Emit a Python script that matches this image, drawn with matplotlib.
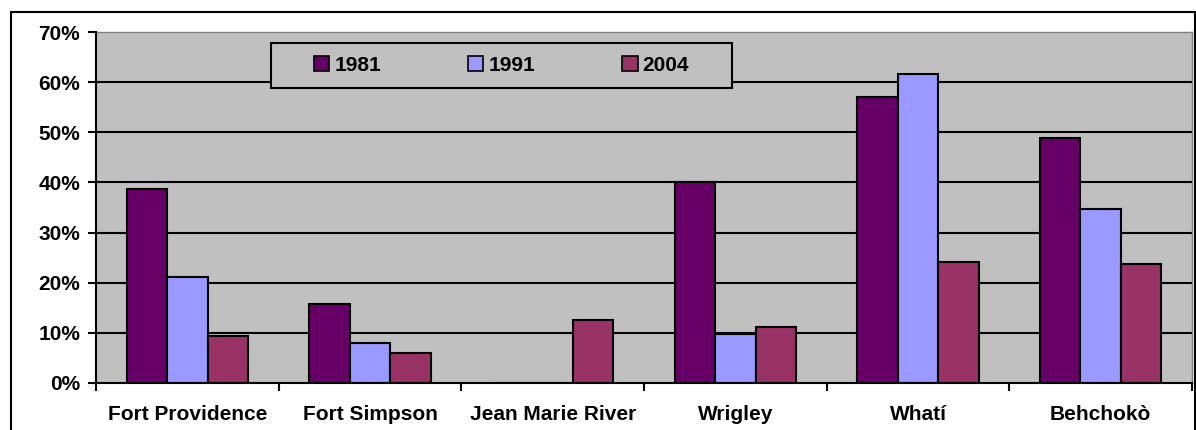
import matplotlib
matplotlib.use("Agg")
import matplotlib.pyplot as plt
from matplotlib.patches import Rectangle, Patch
import numpy as np

categories = ["Fort Providence", "Fort Simpson", "Jean Marie River", "Wrigley", "Whatí", "Behchokò"]
series_names = ["1981", "1991", "2004"]
values_1981 = [38.7, 15.7, 0.0, 40.0, 57.1, 48.9]
values_1991 = [21.1, 8.0, 0.0, 9.8, 61.6, 34.8]
values_2004 = [9.4, 5.9, 12.5, 11.1, 24.1, 23.8]
y_ticks = [0, 10, 20, 30, 40, 50, 60, 70]
y_tick_labels = ["0%", "10%", "20%", "30%", "40%", "50%", "60%", "70%"]
colors = ["#660066", "#9999FF", "#993366"]

plt.rcParams['font.family'] = ['Liberation Sans', 'DejaVu Sans']
plt.rcParams['font.weight'] = 'bold'

W, H = 1196, 430
fig = plt.figure(figsize=(W / 100, H / 100), dpi=100)
fig.patch.set_facecolor("white")

# outer chart frame
fig.patches.append(Rectangle((11 / W, -0.05), (1195 - 11) / W, (H - 12) / H + 0.05,
                             transform=fig.transFigure, fill=False,
                             edgecolor="black", linewidth=1.5, zorder=0))

ax = fig.add_axes([96 / W, (H - 383) / H, (1192 - 96) / W, (383 - 32) / H])
ax.set_facecolor("#C0C0C0")

x = np.arange(len(categories))
bw = 0.222
for i, (vals, name) in enumerate(zip([values_1981, values_1991, values_2004], series_names)):
    ax.bar(x + (i - 1) * bw, vals, width=bw, color=colors[i], edgecolor="black",
           linewidth=1.5, zorder=3, label=name)

ax.set_xlim(-0.5, len(categories) - 0.5)
ax.set_ylim(0, 70)
ax.set_yticks(y_ticks)
ax.set_yticklabels(y_tick_labels, fontsize=15, fontweight="bold")
ax.set_xticks(x)
ax.set_xticklabels(categories, fontsize=15, fontweight="bold")
ax.set_xticks(np.arange(-0.5, len(categories), 1.0), minor=True)
ax.tick_params(axis="x", which="major", length=0, pad=16)
ax.tick_params(axis="x", which="minor", length=5.5, width=1.5, direction="out")
ax.tick_params(axis="y", which="major", length=5.5, width=1.5, direction="out", pad=6)

for yv in y_ticks[1:-1]:
    ax.axhline(yv, color="black", linewidth=1.5, zorder=1)

ax.spines["left"].set_color("black")
ax.spines["left"].set_linewidth(1.5)
ax.spines["bottom"].set_color("black")
ax.spines["bottom"].set_linewidth(1.5)
ax.spines["left"].set_zorder(4)
ax.spines["bottom"].set_zorder(4)
ax.spines["top"].set_color("#808080")
ax.spines["right"].set_color("#808080")
ax.spines["top"].set_linewidth(1.0)
ax.spines["right"].set_linewidth(1.0)

# legend box
lx0, lx1, ly0, ly1 = 271, 732, 43, 88
fig.patches.append(Rectangle((lx0 / W, (H - ly1) / H), (lx1 - lx0) / W, (ly1 - ly0) / H,
                             transform=fig.transFigure, facecolor="#C0C0C0",
                             edgecolor="black", linewidth=1.5, zorder=5))
handles = [Patch(facecolor=c, edgecolor="black", linewidth=1.2) for c in colors]
leg = fig.legend(handles, series_names, loc="center",
                 bbox_to_anchor=((lx0 + lx1) / 2 / W, (H - (ly0 + ly1) / 2) / H),
                 ncol=3, frameon=False, handlelength=0.75, handleheight=0.75,
                 handletextpad=0.25, columnspacing=4.15, prop={"weight": "bold", "size": 15})
leg.set_zorder(6)

fig.savefig("out.png", dpi=100)
